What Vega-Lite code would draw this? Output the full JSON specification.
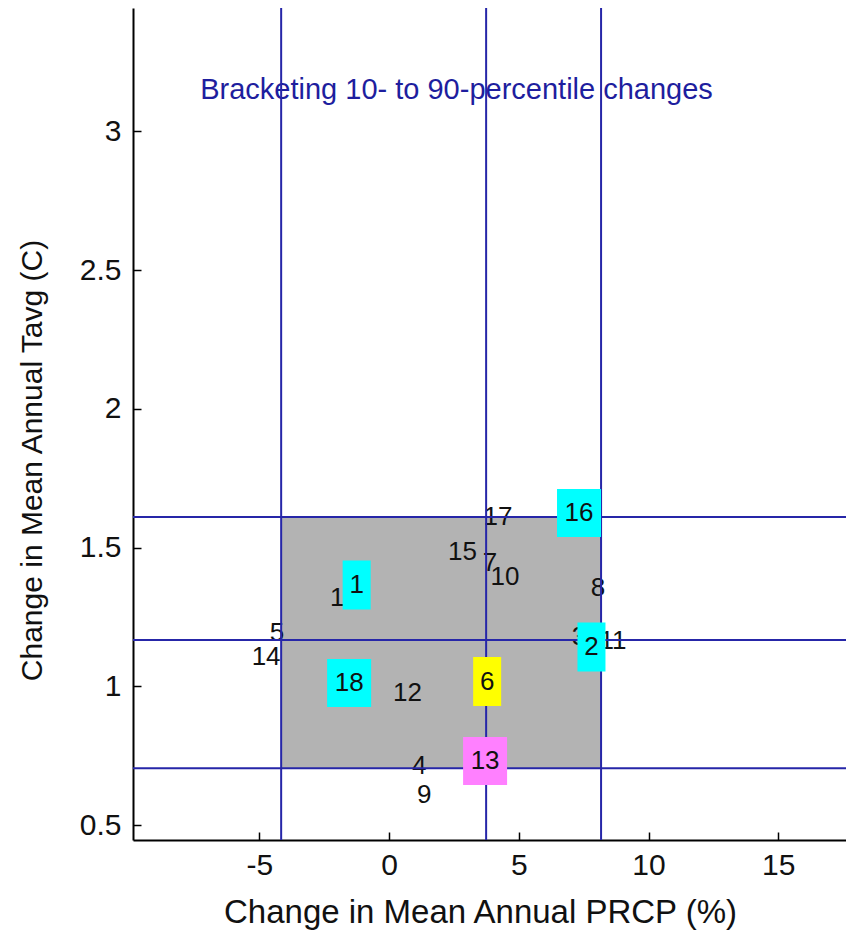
{
  "$schema": "https://vega.github.io/schema/vega-lite/v6.json",
  "width": 713,
  "height": 832,
  "autosize": {"type": "none"},
  "padding": {"left": 133, "top": 8, "right": 0, "bottom": 94},
  "background": "white",
  "config": {"view": {"stroke": null}, "font": "Liberation Sans"},
  "datasets": {
    "box": [{"x1": -4.16, "x2": 8.17, "y1": 0.705, "y2": 1.61}],
    "vlines": [{"x": -4.16}, {"x": 3.74}, {"x": 8.17}],
    "hlines": [{"y": 0.705}, {"y": 1.167}, {"y": 1.61}],
    "labels": [
      {"label": "17", "x": 4.20, "y": 1.610},
      {"label": "15", "x": 2.83, "y": 1.484},
      {"label": "7", "x": 3.89, "y": 1.444},
      {"label": "10", "x": 4.47, "y": 1.394},
      {"label": "8", "x": 8.05, "y": 1.354},
      {"label": "1", "x": -2.0, "y": 1.32},
      {"label": "5", "x": -4.32, "y": 1.192},
      {"label": "14", "x": -4.74, "y": 1.106},
      {"label": "3", "x": 7.32, "y": 1.178},
      {"label": "11", "x": 8.63, "y": 1.163},
      {"label": "12", "x": 0.71, "y": 0.976},
      {"label": "4", "x": 1.16, "y": 0.713},
      {"label": "9", "x": 1.35, "y": 0.608}
    ],
    "highlights": [
      {"label": "16", "x": 7.32, "y": 1.625, "class": "cyan"},
      {"label": "1", "x": -1.25, "y": 1.365, "class": "cyan"},
      {"label": "18", "x": -1.54, "y": 1.012, "class": "cyan"},
      {"label": "6", "x": 3.78, "y": 1.017, "class": "yellow"},
      {"label": "13", "x": 3.70, "y": 0.731, "class": "magenta"},
      {"label": "2", "x": 7.80, "y": 1.142, "class": "cyan"}
    ],
    "note": [{"x": -7.28, "y": 3.15, "text": "Bracketing 10- to 90-percentile changes"}]
  },
  "layer": [
    {
      "data": {"name": "box"},
      "mark": {"type": "rect", "color": "#b3b3b3"},
      "encoding": {
        "x": {
          "field": "x1", "type": "quantitative",
          "scale": {"domain": [-9.87, 17.61], "nice": false, "zero": false},
          "axis": {
            "title": "Change in Mean Annual PRCP (%)",
            "values": [-5, 0, 5, 10, 15],
            "labelExpr": "datum.value + ''",
            "grid": false,
            "domainColor": "#000000", "domainWidth": 2,
            "tickColor": "#000000", "tickWidth": 1.5, "tickSize": -8,
            "labelFontSize": 30, "labelColor": "#111111", "labelPadding": 18,
            "labelFont": "Liberation Sans",
            "titleFontSize": 33, "titleFontWeight": "normal", "titleColor": "#111111",
            "titleFont": "Liberation Sans",
            "titleX": 347, "titleY": 72, "titleBaseline": "middle", "titleAlign": "center"
          }
        },
        "x2": {"field": "x2"},
        "y": {
          "field": "y1", "type": "quantitative",
          "scale": {"domain": [0.446, 3.445], "nice": false, "zero": false},
          "axis": {
            "title": "Change in Mean Annual Tavg (C)",
            "values": [0.5, 1, 1.5, 2, 2.5, 3],
            "labelExpr": "datum.value + ''",
            "grid": false,
            "domainColor": "#000000", "domainWidth": 2,
            "tickColor": "#000000", "tickWidth": 1.5, "tickSize": -8,
            "labelFontSize": 30, "labelColor": "#111111", "labelPadding": 20,
            "labelFont": "Liberation Sans",
            "titleFontSize": 30, "titleFontWeight": "normal", "titleColor": "#111111",
            "titleFont": "Liberation Sans",
            "titleX": -101, "titleY": 452, "titleBaseline": "middle", "titleAlign": "center", "titleAngle": 270
          }
        },
        "y2": {"field": "y2"}
      }
    },
    {
      "data": {"name": "note"},
      "mark": {"type": "text", "align": "left", "baseline": "middle", "fontSize": 29, "color": "#1e1e9e", "font": "Liberation Sans"},
      "encoding": {
        "x": {"field": "x", "type": "quantitative"},
        "y": {"field": "y", "type": "quantitative"},
        "text": {"field": "text"}
      }
    },
    {
      "data": {"name": "labels"},
      "mark": {"type": "text", "align": "center", "baseline": "middle", "fontSize": 26, "color": "#111111", "font": "Liberation Sans"},
      "encoding": {
        "x": {"field": "x", "type": "quantitative"},
        "y": {"field": "y", "type": "quantitative"},
        "text": {"field": "label"}
      }
    },
    {
      "data": {"name": "vlines"},
      "mark": {"type": "rule", "color": "#2626a8", "strokeWidth": 2},
      "encoding": {"x": {"field": "x", "type": "quantitative"}}
    },
    {
      "data": {"name": "hlines"},
      "mark": {"type": "rule", "color": "#2626a8", "strokeWidth": 2},
      "encoding": {"y": {"field": "y", "type": "quantitative"}}
    },
    {
      "data": {"name": "highlights"},
      "transform": [{"filter": "length(datum.label) == 2"}],
      "mark": {"type": "rect", "width": 44, "height": 48},
      "encoding": {
        "x": {"field": "x", "type": "quantitative"},
        "y": {"field": "y", "type": "quantitative"},
        "color": {"field": "class", "type": "nominal", "legend": null,
          "scale": {"domain": ["cyan", "yellow", "magenta"], "range": ["#00ffff", "#ffff00", "#ff80ff"]}}
      }
    },
    {
      "data": {"name": "highlights"},
      "transform": [{"filter": "length(datum.label) == 1"}],
      "mark": {"type": "rect", "width": 28, "height": 49},
      "encoding": {
        "x": {"field": "x", "type": "quantitative"},
        "y": {"field": "y", "type": "quantitative"},
        "color": {"field": "class", "type": "nominal", "legend": null,
          "scale": {"domain": ["cyan", "yellow", "magenta"], "range": ["#00ffff", "#ffff00", "#ff80ff"]}}
      }
    },
    {
      "data": {"name": "highlights"},
      "mark": {"type": "text", "align": "center", "baseline": "middle", "fontSize": 26, "color": "#111111", "font": "Liberation Sans"},
      "encoding": {
        "x": {"field": "x", "type": "quantitative"},
        "y": {"field": "y", "type": "quantitative"},
        "text": {"field": "label"}
      }
    }
  ]
}
